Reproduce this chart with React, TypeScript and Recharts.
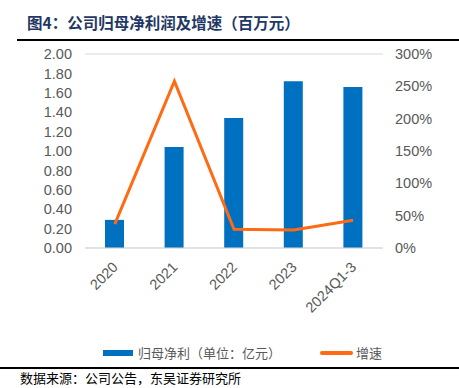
import React from 'react';
import { ComposedChart, Bar, Line, XAxis, YAxis, CartesianGrid, Legend } from 'recharts';

const years = ['2020', '2021', '2022', '2023', '2024Q1-3'];
const netProfit = [0.29, 1.04, 1.34, 1.72, 1.66];
const growth = [37, 258, 29, 28, 43];
const leftTicks = [0, 0.2, 0.4, 0.6, 0.8, 1.0, 1.2, 1.4, 1.6, 1.8, 2.0];
const rightTicks = [0, 50, 100, 150, 200, 250, 300];

const BLUE = '#0070C0';
const ORANGE = '#FF6A13';
const TICK_FONT = '"Liberation Sans", Arial, sans-serif';
const CJK_FONT = '"Noto Sans CJK SC", sans-serif';

const data = years.map((y, i) => ({ name: y, profit: netProfit[i], growth: growth[i] }));

const XTick = ({ x, y, payload }: any) => (
  <text
    x={x + 4}
    y={y + 12}
    transform={`rotate(-45 ${x + 4} ${y + 12})`}
    textAnchor="end"
    fill="#595959"
    fontSize={14.5}
    fontFamily={TICK_FONT}
  >
    {payload.value}
  </text>
);

const LegendContent = () => (
  <div style={{ fontFamily: CJK_FONT, fontSize: 13, color: '#595959', height: 20 }}>
    <span style={{ position: 'absolute', left: 103, top: 7, width: 30, height: 6, background: BLUE }} />
    <span style={{ position: 'absolute', left: 138, top: 0 }}>归母净利（单位：亿元）</span>
    <span style={{ position: 'absolute', left: 320, top: 8, width: 33, height: 4, background: ORANGE, borderRadius: 2 }} />
    <span style={{ position: 'absolute', left: 356, top: 0 }}>增速</span>
  </div>
);

export default function App() {
  return (
    <div style={{ position: 'absolute', left: 0, top: 0, width: 459, height: 388, background: '#fff', overflow: 'hidden' }}>
      <div style={{ position: 'absolute', left: 27, top: 11, fontFamily: CJK_FONT, fontWeight: 700, fontSize: 15.5, color: '#1F3864', whiteSpace: 'nowrap' }}>
        图4：公司归母净利润及增速（百万元）
      </div>
      <div style={{ position: 'absolute', left: 17, top: 39, width: 442, height: 2, background: '#000' }} />
      <div style={{ position: 'absolute', left: 0, top: 0 }}>
        <ComposedChart width={459} height={388} data={data} margin={{ top: 54, right: 0, bottom: 65, left: 0 }}>
          <CartesianGrid vertical={false} stroke="#D9D9D9" />
          <XAxis
            dataKey="name"
            height={75}
            tick={<XTick />}
            tickLine={false}
            axisLine={{ stroke: '#D9D9D9' }}
            interval={0}
          />
          <YAxis
            yAxisId="left"
            width={85}
            domain={[0, 2]}
            ticks={leftTicks}
            interval={0}
            tickFormatter={(v: number) => v.toFixed(2)}
            tickLine={false}
            axisLine={false}
            tickSize={0}
            tickMargin={13}
            tick={{ fill: '#595959', fontSize: 14.5, fontFamily: TICK_FONT }}
          />
          <YAxis
            yAxisId="right"
            orientation="right"
            width={76}
            domain={[0, 300]}
            ticks={rightTicks}
            interval={0}
            tickFormatter={(v: number) => `${v}%`}
            tickLine={false}
            axisLine={false}
            tickSize={0}
            tickMargin={12}
            tick={{ fill: '#595959', fontSize: 14.5, fontFamily: TICK_FONT, textAnchor: 'start' }}
          />
          <Bar yAxisId="left" dataKey="profit" fill={BLUE} barSize={19} isAnimationActive={false} />
          <Line
            yAxisId="right"
            type="linear"
            dataKey="growth"
            stroke={ORANGE}
            strokeWidth={3}
            dot={false}
            isAnimationActive={false}
          />
          <Legend
            layout="horizontal"
            verticalAlign="middle"
            align="center"
            content={<LegendContent />}
            wrapperStyle={{ top: 343, left: 0, width: 459, height: 20 }}
          />
        </ComposedChart>
      </div>
      <div style={{ position: 'absolute', left: 0, top: 367, width: 459, height: 2, background: '#000' }} />
      <div style={{ position: 'absolute', left: 20, top: 369, fontFamily: CJK_FONT, fontSize: 13, lineHeight: '18px', color: '#000', whiteSpace: 'nowrap' }}>
        数据来源：公司公告，东吴证券研究所
      </div>
    </div>
  );
}
